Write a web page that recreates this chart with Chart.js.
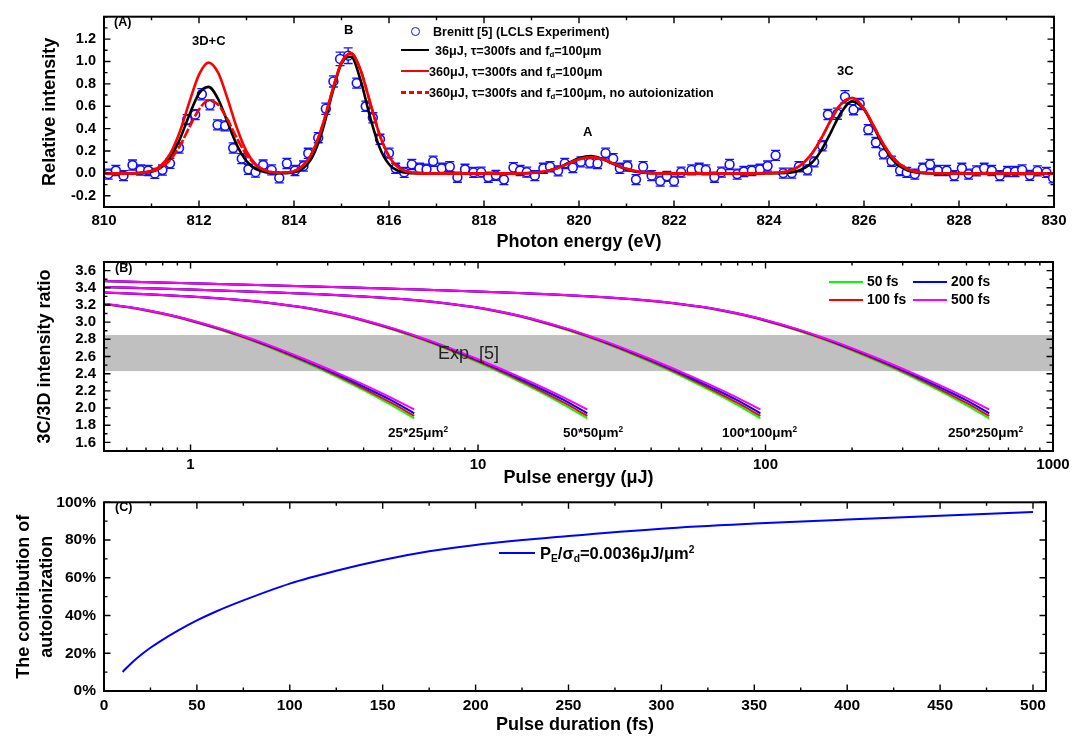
<!DOCTYPE html>
<html>
<head>
<meta charset="utf-8">
<script src="https://cdn.jsdelivr.net/npm/chart.js@4.4.1/dist/chart.umd.min.js"></script>
<style>
body { margin: 0; background: #fff; }
#wrap { position: relative; width: 1084px; height: 737px; overflow: hidden; font-family: 'Liberation Sans', Arial, sans-serif; }
canvas { position: absolute; left: 0; }
.t { position: absolute; white-space: nowrap; font-weight: bold; line-height: 1; transform: translateY(-50%); color: #000; }
.t sub { font-size: 0.62em; vertical-align: -0.35em; line-height: 0; }
.t sup { font-size: 0.62em; vertical-align: 0.6em; line-height: 0; }
.ln { position: absolute; height: 0; }
</style>
</head>
<body>
<div id="wrap">
  <canvas id="cA" width="1084" height="260" style="top:0px;width:1084px;height:260px"></canvas>
  <canvas id="cB" width="1084" height="245" style="top:245px;width:1084px;height:245px"></canvas>
  <canvas id="cC" width="1084" height="252" style="top:485px;width:1084px;height:252px"></canvas>

  <!-- panel A -->
  <div class="t" style="left:114px;top:22px;font-size:12.5px">(A)</div>
  <div class="t" style="left:192px;top:40px;font-size:13px">3D+C</div>
  <div class="t" style="left:344px;top:29px;font-size:13px">B</div>
  <div class="t" style="left:583px;top:131px;font-size:13px">A</div>
  <div class="t" style="left:837px;top:70px;font-size:13px">3C</div>
  <div style="position:absolute;left:411px;top:27px;width:7px;height:7px;border:1.6px solid #1010ff;border-radius:50%"></div>
  <div class="t" style="left:433px;top:32px;font-size:12.6px">Brenitt [5] (LCLS Experiment)</div>
  <div class="ln" style="left:401px;top:49px;width:28px;border-top:2.5px solid #000"></div>
  <div class="t" style="left:435px;top:51px;font-size:12.6px">36μJ, τ=300fs and f<sub>d</sub>=100μm</div>
  <div class="ln" style="left:401px;top:70px;width:28px;border-top:2.5px solid #ff0000"></div>
  <div class="t" style="left:429px;top:72px;font-size:12.6px">360μJ, τ=300fs and f<sub>d</sub>=100μm</div>
  <div class="ln" style="left:401px;top:91px;width:28px;height:2.5px;background:repeating-linear-gradient(90deg,#ff0000 0 5px,transparent 5px 8px)"></div>
  <div class="t" style="left:429px;top:93px;font-size:12.6px">360μJ, τ=300fs and f<sub>d</sub>=100μm, no autoionization</div>

  <!-- panel B -->
  <div class="t" style="left:115px;top:268px;font-size:12.5px">(B)</div>
  <div class="t" style="left:438px;top:353px;font-size:18px;font-weight:normal;color:#222">Exp. [5]</div>
  <div class="ln" style="left:829px;top:281px;width:34px;border-top:2px solid #00ff00"></div>
  <div class="t" style="left:867px;top:282px;font-size:13.8px">50 fs</div>
  <div class="ln" style="left:829px;top:299px;width:34px;border-top:2px solid #ff0000"></div>
  <div class="t" style="left:867px;top:300px;font-size:13.8px">100 fs</div>
  <div class="ln" style="left:913px;top:281px;width:34px;border-top:2px solid #0000ff"></div>
  <div class="t" style="left:951px;top:282px;font-size:13.8px">200 fs</div>
  <div class="ln" style="left:913px;top:299px;width:34px;border-top:2px solid #ff00ff"></div>
  <div class="t" style="left:951px;top:300px;font-size:13.8px">500 fs</div>
  <div class="t" style="left:388px;top:433px;font-size:13.5px">25*25μm<sup>2</sup></div>
  <div class="t" style="left:563px;top:433px;font-size:13.5px">50*50μm<sup>2</sup></div>
  <div class="t" style="left:722px;top:433px;font-size:13.5px">100*100μm<sup>2</sup></div>
  <div class="t" style="left:948px;top:433px;font-size:13.5px">250*250μm<sup>2</sup></div>

  <!-- panel C -->
  <div class="t" style="left:115px;top:507px;font-size:12.5px">(C)</div>
  <div class="ln" style="left:499px;top:552px;width:36px;border-top:2px solid #0000ff"></div>
  <div class="t" style="left:540px;top:553px;font-size:16.5px">P<sub>E</sub>/σ<sub>d</sub>=0.0036μJ/μm<sup>2</sup></div>
</div>

<script>
// ---- panel A: Brenitt [5] experiment points (eV, relative intensity, error)
const expE = [810.09, 810.25, 810.41, 810.60, 810.77, 810.93, 811.07, 811.23, 811.39, 811.58, 811.75, 811.92,
  812.06, 812.23, 812.39, 812.55, 812.72, 812.90, 813.04, 813.19, 813.35, 813.53, 813.69, 813.85,
  814.02, 814.20, 814.30, 814.51, 814.67, 814.83, 814.97, 815.14, 815.32, 815.51, 815.66, 815.81,
  816.00, 816.14, 816.32, 816.48, 816.64, 816.79, 816.93, 817.11, 817.28, 817.44, 817.60, 817.78,
  817.94, 818.09, 818.25, 818.42, 818.62, 818.76, 818.90, 819.07, 819.25, 819.39, 819.56, 819.70,
  819.87, 820.04, 820.23, 820.39, 820.56, 820.72, 820.86, 821.02, 821.20, 821.35, 821.53, 821.71,
  821.85, 822.00, 822.15, 822.37, 822.53, 822.67, 822.85, 823.00, 823.17, 823.33, 823.47, 823.64,
  823.81, 823.97, 824.14, 824.30, 824.48, 824.63, 824.81, 824.95, 825.12, 825.24, 825.44, 825.60,
  825.78, 825.91, 826.09, 826.25, 826.41, 826.58, 826.76, 826.90, 827.07, 827.24, 827.39, 827.56,
  827.74, 827.90, 828.06, 828.20, 828.37, 828.53, 828.69, 828.86, 829.02, 829.18, 829.33, 829.49,
  829.65, 829.84, 829.98];
const expI = [-0.006, 0.026, -0.02, 0.075, 0.03, 0.026, 0.0, 0.03, 0.09, 0.227, 0.48, 0.525,
  0.707, 0.612, 0.434, 0.425, 0.227, 0.132, 0.037, 0.011, 0.075, 0.032, -0.04, 0.089,
  0.026, 0.066, 0.18, 0.319, 0.578, 0.822, 1.023, 1.052, 0.807, 0.60, 0.497, 0.305,
  0.181, 0.046, 0.009, 0.08, 0.046, 0.037, 0.109, 0.046, 0.06, -0.034, 0.037, 0.009,
  0.011, -0.034, -0.017, -0.055, 0.052, 0.026, 0.011, -0.02, 0.046, 0.06, 0.023, 0.089,
  0.052, 0.103, 0.095, 0.089, 0.181, 0.132, 0.046, 0.066, -0.055, 0.06, -0.02, -0.069,
  -0.026, -0.069, 0.011, 0.032, 0.046, 0.032, -0.034, 0.011, 0.08, -0.006, 0.017, 0.026,
  0.037, 0.066, 0.161, 0.003, 0.003, 0.06, 0.032, 0.103, 0.247, 0.526, 0.534, 0.684,
  0.569, 0.621, 0.391, 0.276, 0.175, 0.109, 0.026, 0.009, -0.006, 0.046, 0.08, 0.026,
  0.026, -0.02, 0.046, -0.006, 0.023, 0.046, 0.026, -0.02, 0.017, 0.017, 0.032, -0.017,
  0.023, 0.009, -0.04];
const expErr = [0.045, 0.045, 0.045, 0.045, 0.045, 0.045, 0.045, 0.045, 0.045, 0.045, 0.045, 0.045,
  0.05, 0.045, 0.045, 0.045, 0.045, 0.045, 0.045, 0.045, 0.045, 0.045, 0.045, 0.045,
  0.045, 0.045, 0.045, 0.045, 0.05, 0.05, 0.06, 0.07, 0.045, 0.045, 0.045, 0.045,
  0.045, 0.045, 0.045, 0.045, 0.045, 0.045, 0.045, 0.045, 0.045, 0.045, 0.045, 0.045,
  0.045, 0.045, 0.045, 0.045, 0.045, 0.045, 0.045, 0.045, 0.045, 0.045, 0.045, 0.045,
  0.045, 0.045, 0.045, 0.045, 0.045, 0.045, 0.045, 0.045, 0.045, 0.045, 0.045, 0.045,
  0.045, 0.045, 0.045, 0.045, 0.045, 0.045, 0.045, 0.045, 0.045, 0.045, 0.045, 0.045,
  0.045, 0.045, 0.045, 0.045, 0.045, 0.045, 0.045, 0.045, 0.045, 0.045, 0.05, 0.055,
  0.045, 0.05, 0.045, 0.045, 0.045, 0.045, 0.045, 0.045, 0.045, 0.045, 0.045, 0.045,
  0.045, 0.045, 0.045, 0.045, 0.045, 0.045, 0.045, 0.045, 0.045, 0.045, 0.045, 0.045,
  0.045, 0.045, 0.045];

// ---- panel A: model curves
const curveE = [810, 810.5, 811.0, 811.2, 811.4, 811.6, 811.8, 812.0, 812.2, 812.4,
  812.6, 812.8, 813.0, 813.2, 813.4, 813.6, 813.9, 814.2, 814.4, 814.6,
  814.8, 815.0, 815.2, 815.4, 815.6, 815.8, 816.0, 816.2, 816.5, 816.8,
  817.5, 818.5, 819.2, 819.5, 819.8, 820.0, 820.25, 820.5, 820.7, 821.0,
  821.3, 821.6, 822.5, 823.5, 824.2, 824.6, 824.9, 825.1, 825.3, 825.5,
  825.75, 826.0, 826.2, 826.4, 826.6, 826.9, 827.2, 827.6, 828.5, 830];
const black36 = [0, 0, 0.016, 0.054, 0.144, 0.309, 0.526, 0.714, 0.773, 0.667,
  0.459, 0.252, 0.110, 0.038, 0.011, 0.002, 0.005, 0.049, 0.159, 0.385,
  0.707, 0.986, 1.042, 0.835, 0.507, 0.234, 0.082, 0.022, 0.002, 0,
  0, 0, 0.011, 0.042, 0.098, 0.136, 0.155, 0.129, 0.090, 0.036,
  0.009, 0.002, 0, 0, 0.001, 0.021, 0.095, 0.206, 0.365, 0.531,
  0.644, 0.572, 0.417, 0.250, 0.123, 0.029, 0.004, 0, 0, 0];
const red360 = [0, 0, 0.023, 0.071, 0.182, 0.378, 0.641, 0.883, 0.990, 0.902,
  0.668, 0.403, 0.197, 0.079, 0.026, 0.008, 0.011, 0.075, 0.200, 0.428,
  0.729, 0.990, 1.072, 0.925, 0.637, 0.349, 0.153, 0.053, 0.007, 0,
  0, 0, 0.012, 0.041, 0.092, 0.126, 0.145, 0.126, 0.092, 0.041,
  0.012, 0.002, 0, 0, 0.007, 0.055, 0.176, 0.313, 0.474, 0.613,
  0.674, 0.577, 0.426, 0.268, 0.143, 0.042, 0.008, 0.001, 0, 0];
const red360NoAuto = [0, 0, 0.017, 0.051, 0.124, 0.249, 0.414, 0.572, 0.652, 0.616,
  0.482, 0.312, 0.167, 0.074, 0.027, 0.009, 0.011, 0.075, 0.200, 0.428,
  0.729, 0.990, 1.072, 0.925, 0.637, 0.349, 0.153, 0.053, 0.007, 0,
  0, 0, 0.012, 0.041, 0.092, 0.126, 0.145, 0.126, 0.092, 0.041,
  0.012, 0.002, 0, 0, 0.007, 0.055, 0.176, 0.313, 0.474, 0.613,
  0.674, 0.577, 0.426, 0.268, 0.143, 0.042, 0.008, 0.001, 0, 0];

// ---- panel B: 3C/3D ratio. Pulse energies (uJ) per focal spot
const e25 = [0.5, 0.6, 0.7, 0.85, 1, 1.25, 1.5, 1.75, 2, 2.5, 3, 3.5, 4, 5, 6];
const e50 = [0.5, 0.72, 1, 1.4, 2, 2.4, 2.8, 3.4, 4, 5, 6, 7, 8, 10, 12, 14, 16, 20, 24];
const e100 = [0.5, 1, 2, 2.88, 4, 5.6, 8, 9.6, 11.2, 13.6, 16, 20, 24, 28, 32, 40, 48, 56, 64, 80, 96];
const e250 = [0.5, 1, 2, 3.125, 6.25, 12.5, 18, 25, 35, 50, 60, 70, 85, 100, 125, 150, 175, 200, 250, 300, 350, 400, 500, 600];
// ratio per pulse duration (250*250 spot); the smaller spots sit on the
// same curve in fluence, so they use the tail of these lists
const ratio50 = [3.474, 3.449, 3.423, 3.405, 3.376, 3.342, 3.320, 3.295, 3.262, 3.209, 3.172, 3.133,
  3.073, 3.013, 2.918, 2.829, 2.747, 2.670, 2.533, 2.413, 2.306, 2.209, 2.034, 1.879];
const ratio100 = [3.478, 3.453, 3.427, 3.409, 3.379, 3.345, 3.322, 3.297, 3.264, 3.212, 3.175, 3.136,
  3.077, 3.017, 2.923, 2.835, 2.754, 2.678, 2.543, 2.426, 2.322, 2.227, 2.059, 1.909];
const ratio200 = [3.478, 3.453, 3.427, 3.409, 3.380, 3.346, 3.324, 3.299, 3.266, 3.215, 3.179, 3.141,
  3.083, 3.023, 2.930, 2.843, 2.763, 2.688, 2.556, 2.442, 2.341, 2.249, 2.089, 1.939];
const ratio500 = [3.478, 3.453, 3.427, 3.409, 3.380, 3.346, 3.324, 3.299, 3.266, 3.215, 3.179, 3.141,
  3.083, 3.025, 2.933, 2.848, 2.770, 2.697, 2.568, 2.457, 2.360, 2.273, 2.119, 1.984];
const expBand = [2.43, 2.85];

// ---- panel C: autoionization contribution (%)
const durC = [10, 15, 20, 25, 30, 40, 50, 60, 75, 100, 125, 150, 175, 200, 250, 300, 350, 400, 450, 500];
const contribC = [10.1, 15.0, 19.2, 22.9, 26.2, 32.1, 37.4, 42.0, 48.0, 56.9, 63.7, 69.4, 74.0, 77.4, 82.1, 86.0, 88.7, 90.9, 92.9, 94.9];

// ---- tick labels
const xTicksA = [810, 812, 814, 816, 818, 820, 822, 824, 826, 828, 830];
const yTicksA = [-0.2, 0, 0.2, 0.4, 0.6, 0.8, 1.0, 1.2];
const xTicksB = [1, 10, 100, 1000];
const yTicksB = [1.6, 1.8, 2.0, 2.2, 2.4, 2.6, 2.8, 3.0, 3.2, 3.4, 3.6];
const xTicksC = [0, 50, 100, 150, 200, 250, 300, 350, 400, 450, 500];
const yTicksC = [0, 20, 40, 60, 80, 100];

Chart.defaults.font.family = "'Liberation Sans', Arial, sans-serif";
Chart.defaults.font.weight = 'bold';
Chart.defaults.color = '#000';
Chart.defaults.animation = false;

function pts(xs, ys) { return xs.map((x, i) => ({ x: x, y: ys[i] })); }

function minorValues(scale, step) {
  const out = [];
  if (scale.type === 'logarithmic') {
    for (let k = Math.floor(Math.log10(scale.min)); k <= Math.ceil(Math.log10(scale.max)); k++) {
      for (let m = 2; m <= 9; m++) {
        const v = m * Math.pow(10, k);
        if (v >= scale.min && v <= scale.max) out.push(v);
      }
    }
  } else {
    for (let i = Math.ceil(scale.min / step - 1e-9); i * step <= scale.max + 1e-9; i++) out.push(i * step);
  }
  return out;
}

// box with inward ticks on all four sides
const framePlugin = {
  id: 'frame',
  afterDatasetsDraw(chart, args, opts) {
    const { ctx, chartArea: a, scales } = chart;
    ctx.save();
    ctx.strokeStyle = '#000';
    ctx.lineWidth = 1.4;
    ctx.beginPath();
    const mark = (s, v, len) => {
      const p = s.getPixelForValue(v);
      if (s.isHorizontal()) {
        if (p < a.left - 1 || p > a.right + 1) return;
        ctx.moveTo(p, a.bottom); ctx.lineTo(p, a.bottom - len);
        ctx.moveTo(p, a.top); ctx.lineTo(p, a.top + len);
      } else {
        if (p < a.top - 1 || p > a.bottom + 1) return;
        ctx.moveTo(a.left, p); ctx.lineTo(a.left + len, p);
        ctx.moveTo(a.right, p); ctx.lineTo(a.right - len, p);
      }
    };
    [['x', opts.minorX], ['y', opts.minorY]].forEach(([id, step]) => {
      const s = scales[id];
      minorValues(s, step).forEach(v => mark(s, v, 3.5));
      s.ticks.forEach(t => mark(s, t.value, 6.5));
    });
    ctx.stroke();
    ctx.lineWidth = 2;
    ctx.strokeRect(a.left, a.top, a.right - a.left, a.bottom - a.top);
    ctx.restore();
  }
};

const errorBars = {
  id: 'errorBars',
  beforeDatasetsDraw(chart) {
    const { ctx, chartArea: a, scales: { x, y } } = chart;
    ctx.save();
    ctx.beginPath();
    ctx.rect(a.left, a.top, a.right - a.left, a.bottom - a.top);
    ctx.clip();
    ctx.strokeStyle = '#1010ff';
    ctx.lineWidth = 1.3;
    ctx.beginPath();
    expE.forEach((e, i) => {
      const px = x.getPixelForValue(e);
      const hi = y.getPixelForValue(expI[i] + expErr[i]);
      const lo = y.getPixelForValue(expI[i] - expErr[i]);
      ctx.moveTo(px, hi); ctx.lineTo(px, lo);
      ctx.moveTo(px - 4.5, hi); ctx.lineTo(px + 4.5, hi);
      ctx.moveTo(px - 4.5, lo); ctx.lineTo(px + 4.5, lo);
    });
    ctx.stroke();
    ctx.restore();
  }
};

const bandPlugin = {
  id: 'band',
  beforeDatasetsDraw(chart) {
    const { ctx, chartArea: a, scales: { y } } = chart;
    const top = y.getPixelForValue(expBand[1]);
    const bot = y.getPixelForValue(expBand[0]);
    ctx.save();
    ctx.fillStyle = '#c0c0c0';
    ctx.fillRect(a.left, top, a.right - a.left, bot - top);
    ctx.restore();
  }
};

function xAxis(type, min, max, ticks, label, height, size, titlePad, fmt) {
  return {
    type: type, min: min, max: max,
    grid: { display: false, drawTicks: false },
    border: { display: false },
    afterBuildTicks: s => { s.ticks = ticks.map(v => ({ value: v })); },
    afterFit: s => { s.height = height; },
    ticks: { padding: 5, autoSkip: false, maxRotation: 0, font: { size: size }, callback: fmt },
    title: { display: true, text: label, font: { size: 18 }, padding: { top: 0, bottom: titlePad } }
  };
}

function yAxis(min, max, ticks, label, size, titlePad, fmt, lh) {
  return {
    type: 'linear', min: min, max: max,
    grid: { display: false, drawTicks: false },
    border: { display: false },
    afterBuildTicks: s => { s.ticks = ticks.map(v => ({ value: v })); },
    afterFit: s => { s.width = 104; },
    ticks: { padding: 8, autoSkip: false, font: { size: size }, callback: fmt },
    title: { display: true, text: label, font: { size: 18, lineHeight: lh || 1.2 }, padding: { top: titlePad, bottom: 0 } }
  };
}

const line = (data, color, width, order, dash) => ({
  data: data, showLine: true, pointRadius: 0, borderColor: color, borderWidth: width,
  borderDash: dash || [], cubicInterpolationMode: 'monotone', order: order
});

// ---- panel A
new Chart(document.getElementById('cA'), {
  type: 'scatter',
  data: {
    datasets: [
      { data: pts(expE, expI), pointStyle: 'circle', pointRadius: 4.4, borderWidth: 1.6,
        borderColor: '#1010ff', backgroundColor: '#ffffff', order: 4 },
      line(pts(curveE, black36), '#000000', 2.6, 3),
      line(pts(curveE, red360NoAuto), '#ff0000', 2.6, 2, [10, 2]),
      line(pts(curveE, red360), '#ff0000', 2.6, 1)
    ]
  },
  options: {
    responsive: false,
    layout: { padding: { top: 10, right: 30, bottom: 0, left: 0 } },
    plugins: { legend: { display: false }, tooltip: { enabled: false }, frame: { minorX: 1, minorY: 0.1 } },
    scales: {
      x: xAxis('linear', 810, 830, xTicksA, 'Photon energy (eV)', 53, 15, 7, v => String(v)),
      y: yAxis(-0.3, 1.4, yTicksA, 'Relative intensity', 14.5, 39, v => v.toFixed(1))
    }
  },
  plugins: [errorBars, framePlugin]
});

// ---- panel B
const durations = [
  { color: '#00ff00', vals: ratio50 },
  { color: '#ff0000', vals: ratio100 },
  { color: '#0000ff', vals: ratio200 },
  { color: '#ff00ff', vals: ratio500 }
];
const spots = [e25, e50, e100, e250];
const dsB = [];
durations.forEach((d, k) => {
  spots.forEach(E => {
    const tail = d.vals.slice(d.vals.length - E.length);
    dsB.push(line(pts(E, tail), d.color, 2, 4 - k));
  });
});

new Chart(document.getElementById('cB'), {
  type: 'scatter',
  data: { datasets: dsB },
  options: {
    responsive: false,
    layout: { padding: { top: 10, right: 31, bottom: 0, left: 0 } },
    plugins: { legend: { display: false }, tooltip: { enabled: false }, frame: { minorX: 1, minorY: 0.1 } },
    scales: {
      x: xAxis('logarithmic', 0.5, 1000, xTicksB, 'Pulse energy (μJ)', 39, 15, 1, v => String(v)),
      y: yAxis(1.5, 3.7, yTicksB, '3C/3D intensity ratio', 15, 34, v => v.toFixed(1))
    }
  },
  plugins: [bandPlugin, framePlugin]
});

// ---- panel C
new Chart(document.getElementById('cC'), {
  type: 'scatter',
  data: { datasets: [line(pts(durC, contribC), '#0000ff', 2, 1)] },
  options: {
    responsive: false,
    layout: { padding: { top: 10, right: 38, bottom: 0, left: 0 } },
    plugins: { legend: { display: false }, tooltip: { enabled: false }, frame: { minorX: 25, minorY: 10 } },
    scales: {
      x: xAxis('linear', 0, 507, xTicksC, 'Pulse duration (fs)', 46, 15.5, 1, v => String(v)),
      y: yAxis(0, 100, yTicksC, ['The contribution of', 'autoionization'], 15.5, 12, v => v + '%', 1.3)
    }
  },
  plugins: [framePlugin]
});
</script>
</body>
</html>
